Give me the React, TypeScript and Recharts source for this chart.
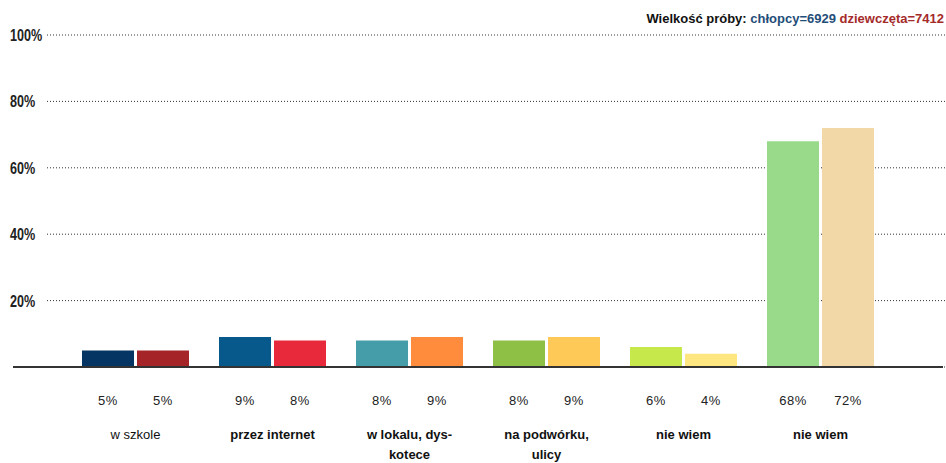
import React from 'react';
import { BarChart, Bar, XAxis, YAxis, CartesianGrid, Cell, LabelList } from 'recharts';

const categories = ['w szkole', 'przez internet', 'w lokalu, dys-|kotece', 'na podwórku,|ulicy', 'nie wiem', 'nie wiem'];
const boldLabels = [false, true, true, true, true, true];
const boys = [5, 9, 8, 8, 6, 68];
const girls = [5, 8, 9, 9, 4, 72];
const boysColors = ['#053663', '#07598C', '#449DA8', '#8DC045', '#C7E84A', '#98DA8A'];
const girlsColors = ['#A42427', '#E8293B', '#FF8B3D', '#FFC957', '#FEE680', '#F2D8A6'];
const yTicks = [20, 40, 60, 80, 100];
const sampleBoys = 6929;
const sampleGirls = 7412;

const data = categories.map((c, i) => ({ key: `c${i}`, boys: boys[i], girls: girls[i] }));

const sansFont = "'Liberation Sans', Arial, sans-serif";

const gridLine = (props: any) => (
  <line
    key={`g-${props.y1}`}
    x1={47}
    x2={946}
    y1={props.y1}
    y2={props.y2}
    stroke="#333"
    strokeWidth={1}
    strokeDasharray="1 2"
  />
);

const YTick = (props: any) => (
  <text
    transform={`translate(10, ${props.y}) scale(0.84, 1.12)`}
    x={0}
    y={0}
    dy={5.3}
    fontFamily={sansFont}
    fontSize={15}
    fontWeight="bold"
    fill="#222"
    textAnchor="start"
  >
    {props.payload.value}%
  </text>
);

const XTick = (props: any) => {
  const idx = parseInt(String(props.payload.value).slice(1), 10);
  const lines = categories[idx].split('|');
  return (
    <text
      x={props.x}
      y={props.y}
      textAnchor="middle"
      fontFamily={sansFont}
      fontSize={13}
      fontWeight={boldLabels[idx] ? 'bold' : 'normal'}
      fill="#111"
    >
      {lines.map((l, i) => (
        <tspan key={i} x={props.x} dy={i === 0 ? 72 : 20}>
          {l}
        </tspan>
      ))}
    </text>
  );
};

const pctLabel = (props: any) => {
  const { x, y, width, height, value } = props;
  return (
    <text
      x={Number(x) + Number(width) / 2}
      y={Number(y) + Number(height) + 37.5}
      textAnchor="middle"
      fontFamily={sansFont}
      fontSize={13}
      letterSpacing={0.5}
      fill="#222"
    >
      {value}%
    </text>
  );
};

export default function App() {
  return (
    <div style={{ position: 'absolute', left: 0, top: 0, width: 946, height: 463, background: '#fff' }}>
      <div
        style={{
          position: 'absolute',
          right: 2,
          top: 11,
          fontFamily: sansFont,
          fontSize: 13,
          fontWeight: 'bold',
          whiteSpace: 'nowrap',
          color: '#111',
        }}
      >
        Wielkość próby: <span style={{ color: '#1F4E79' }}>chłopcy={sampleBoys}</span>{' '}
        <span style={{ color: '#A52A2A' }}>dziewczęta={sampleGirls}</span>
      </div>
      <BarChart
        width={946}
        height={463}
        data={data}
        margin={{ top: 35, right: 3, bottom: 0, left: 3 }}
        barSize={52}
        barGap={3}
      >
        <CartesianGrid horizontal={gridLine} vertical={false} />
        <YAxis
          width={10}
          domain={[0, 100]}
          ticks={yTicks}
          axisLine={false}
          tickLine={false}
          tick={<YTick />}
          interval={0}
        />
        <XAxis
          dataKey="key"
          height={96}
          padding={{ left: 54, right: 54 }}
          axisLine={{ stroke: '#333', strokeWidth: 2 }}
          tickLine={false}
          tickSize={0}
          tickMargin={0}
          tick={<XTick />}
          interval={0}
        />
        <Bar dataKey="boys" isAnimationActive={false}>
          {data.map((d, i) => (
            <Cell key={`b${i}`} fill={boysColors[i]} />
          ))}
          <LabelList dataKey="boys" content={pctLabel} />
        </Bar>
        <Bar dataKey="girls" isAnimationActive={false}>
          {data.map((d, i) => (
            <Cell key={`g${i}`} fill={girlsColors[i]} />
          ))}
          <LabelList dataKey="girls" content={pctLabel} />
        </Bar>
      </BarChart>
    </div>
  );
}
